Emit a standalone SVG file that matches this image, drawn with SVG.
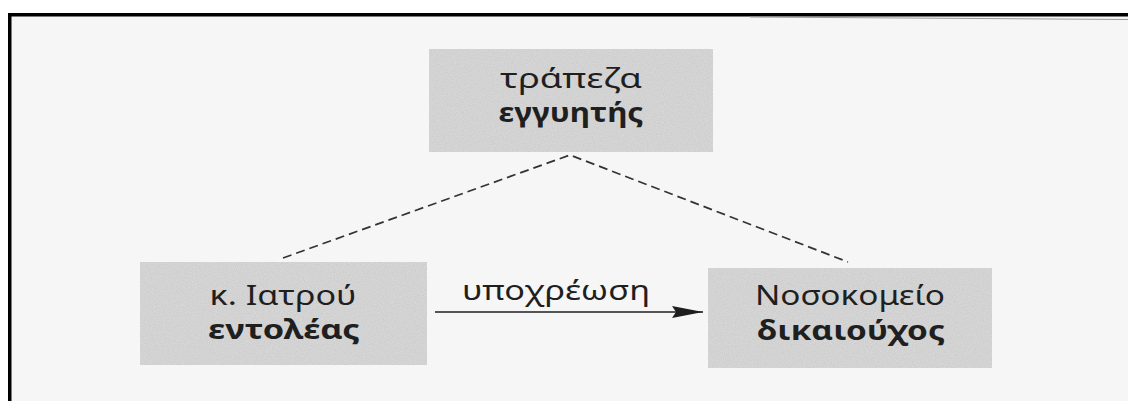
<svg xmlns="http://www.w3.org/2000/svg" width="1128" height="401" viewBox="0 0 1128 401">
  <defs>
    <filter id="grain" x="0" y="0" width="100%" height="100%">
      <feTurbulence type="fractalNoise" baseFrequency="0.9" numOctaves="2" seed="3" result="n"/>
      <feColorMatrix in="n" type="matrix" values="0 0 0 0 0  0 0 0 0 0  0 0 0 0 0  0 0 0 0.2 0" result="dots"/>
      <feComposite in="dots" in2="SourceGraphic" operator="in" result="d"/>
      <feMerge><feMergeNode in="SourceGraphic"/><feMergeNode in="d"/></feMerge>
    </filter>
    <marker id="arrow" viewBox="0 0 31 12" refX="31" refY="6" markerWidth="31" markerHeight="12" markerUnits="userSpaceOnUse" orient="auto">
      <polygon points="0,0 31,6 0,12 4,6" fill="#1e1e1e"/>
    </marker>
  </defs>
  <style>
    .box { fill: #dddddd; filter: url(#grain); }
    .t { font-family: "Noto Sans", "DejaVu Sans", sans-serif; font-size: 27px; fill: #1f1f1f; text-anchor: middle; }
    .b { font-weight: bold; }
    .dash { fill: none; stroke: #333; stroke-width: 1.7; stroke-dasharray: 9 5; }
  </style>

  <!-- page and frame -->
  <rect x="0" y="0" width="1128" height="401" fill="#ffffff"/>
  <rect x="11" y="16" width="1117" height="385" fill="#f6f6f6"/>
  <rect x="8" y="13" width="1120" height="3.5" fill="#000"/>
  <rect x="8" y="13" width="3.5" height="388" fill="#000"/>
  <path d="M750 17 L1128 19.5" stroke="#999" stroke-width="1" fill="none"/>

  <g id="connectors">
    <polyline class="dash" points="283,258 570,155 848,262"/>
    <line x1="435" y1="312" x2="703" y2="312" stroke="#1e1e1e" stroke-width="1.6" marker-end="url(#arrow)"/>
    <text class="t" x="556" y="300" font-size="25" textLength="188" lengthAdjust="spacingAndGlyphs">υποχρέωση</text>
  </g>

  <g id="guarantor">
    <rect class="box" x="429" y="49" width="284" height="103"/>
    <text class="t" x="571" y="88" textLength="142" lengthAdjust="spacingAndGlyphs">τράπεζα</text>
    <text class="t b" x="571" y="122" textLength="145" lengthAdjust="spacingAndGlyphs">εγγυητής</text>
  </g>

  <g id="principal">
    <rect class="box" x="140" y="262" width="287" height="103"/>
    <text class="t" x="283" y="305" textLength="147" lengthAdjust="spacingAndGlyphs">κ. Ιατρού</text>
    <text class="t b" x="284" y="339" textLength="152" lengthAdjust="spacingAndGlyphs">εντολέας</text>
  </g>

  <g id="beneficiary">
    <rect class="box" x="708" y="268" width="284" height="100"/>
    <text class="t" x="850" y="305" textLength="190" lengthAdjust="spacingAndGlyphs">Νοσοκομείο</text>
    <text class="t b" x="851" y="340" textLength="188" lengthAdjust="spacingAndGlyphs">δικαιούχος</text>
  </g>
</svg>
